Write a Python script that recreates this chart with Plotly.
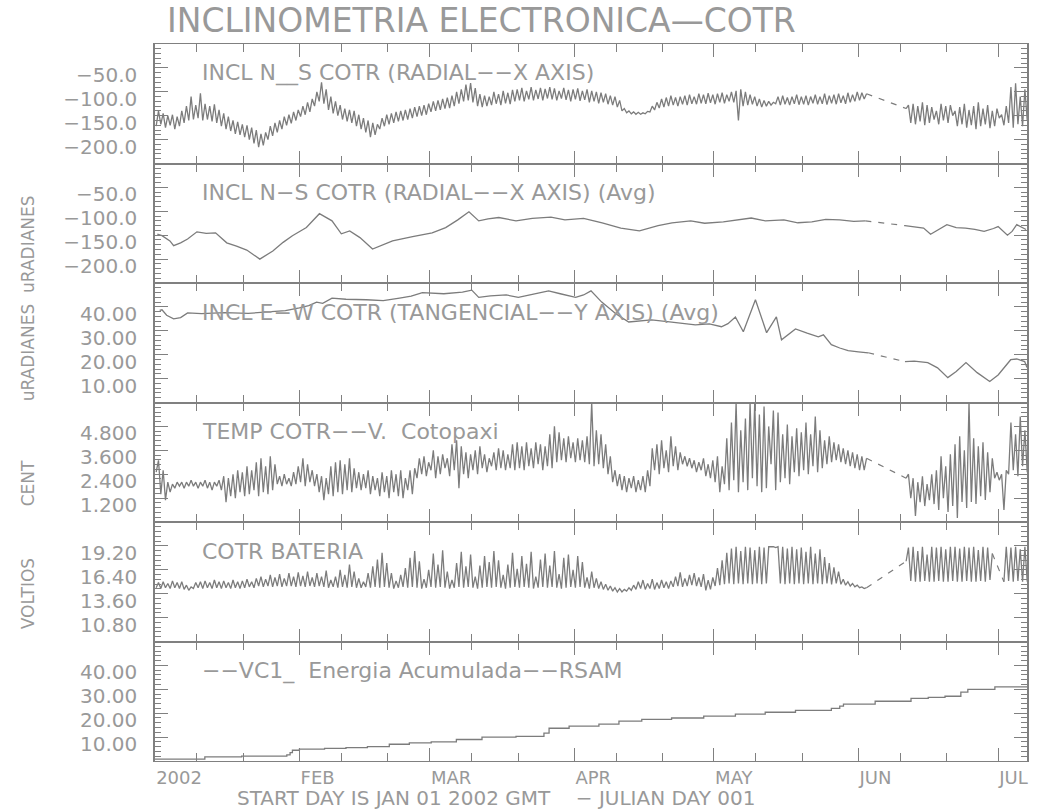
import pandas as pd
import plotly.graph_objects as go
from plotly.subplots import make_subplots

# ---------------- data ----------------
START = "2002-01-01"
X_END_DAY = 187.2

month_ticks = ["2002-01-01", "2002-02-01", "2002-03-01", "2002-04-01",
               "2002-05-01", "2002-06-01", "2002-07-01"]
month_labels = ["2002", "FEB", "MAR", "APR", "MAY", "JUN", "JUL"]
minor_ticks = ["2002-01-10", "2002-01-20", "2002-02-10", "2002-02-20",
               "2002-03-10", "2002-03-20", "2002-04-10", "2002-04-20",
               "2002-05-10", "2002-05-20", "2002-06-10", "2002-06-20"]

N = None
# Panel 1: INCL N__S raw, daily low / high (uRadianes), day 0 = Jan 1
ns_lo = [-172, -168, -175, -170, -178, -172, -165, -160, -158, -155,
         -160, -158, -162, -165, -172, -178, -182, -188, -190, -195,
         -200, -208, -216, -212, -200, -192, -185, -178, -170, -166,
         -160, -152, -148, -142, -130, -120, -125, -138, -145, -150,
         -158, -162, -165, -172, -178, -185, -195, -190, -178, -172,
         -168, -165, -162, -160, -158, -155, -152, -150, -148, -142,
         -140, -138, -135, -134, -130, -125, -120, -118, -122, -130,
         -132, -130, -128, -125, -128, -124, -126, -120, -118, -120,
         -116, -118, -115, -118, -114, -116, -118, -114, -117, -120,
         -116, -119, -117, -122, -120, -124, -122, -126, -128, -132,
         -140, -144, -146, -147, -147, -146, -142, -138, -134, -132,
         -130, -128, -130, -126, -128, -125, -126, -124, -125, -123,
         -126, -122, -124, -120, -122, -160, -130, -128, -126, -130,
         -132, -130, -128, -125, -128, -126, -128, -125, -127, -126,
         -128, -124, -126, -125, -127, -124, -126, -123, -125, -122,
         -120, -118, -115, N, N, N, N, N, N, N,
         N, -135, -165, -168, -162, -170, -165, -158, -168, -160,
         -165, -150, -172, -168, -175, -170, -178, -172, -168, -176,
         -172, -155, -170, -165, -175, -168, -172, -160]
ns_hi = [-140, -145, -150, -148, -152, -140, -130, -110, -128, -103,
         -125, -130, -126, -138, -145, -152, -160, -163, -168, -170,
         -175, -180, -188, -185, -172, -165, -160, -152, -148, -142,
         -138, -130, -122, -115, -100, -80, -95, -110, -120, -128,
         -135, -138, -140, -148, -155, -160, -165, -168, -155, -148,
         -145, -142, -140, -138, -135, -132, -130, -128, -125, -120,
         -118, -115, -112, -108, -100, -95, -85, -82, -92, -105,
         -108, -110, -100, -105, -98, -102, -96, -95, -92, -98,
         -90, -96, -92, -94, -90, -93, -98, -92, -96, -95,
         -93, -98, -95, -98, -100, -102, -104, -108, -110, -118,
         -135, -140, -142, -143, -144, -141, -130, -122, -115, -112,
         -108, -112, -110, -108, -106, -110, -104, -106, -103, -106,
         -104, -102, -106, -100, -98, -95, -100, -106, -110, -115,
         -118, -120, -122, -110, -108, -112, -110, -106, -110, -108,
         -110, -106, -110, -104, -108, -106, -104, -108, -102, -106,
         -100, -102, -104, N, N, N, N, N, N, N,
         N, -128, -125, -130, -122, -128, -132, -140, -125, -130,
         -128, -140, -132, -125, -138, -130, -122, -135, -128, -140,
         -135, -148, -130, -90, -82, -110, -95, -130]

# Panel 2: INCL N-S (Avg)
nsa_day = [0.5, 1.5, 3.2, 4, 5.5, 7, 9, 11, 13, 15.4,
           17.5, 19.7, 22.5, 25.3, 27.5, 29.5, 32.5, 35.3, 38, 40,
           41.8, 44, 46.7, 49, 51, 55.3, 59.5, 62.4, 65, 67.4,
           69.5, 71.5, 73.8, 77.5, 81, 85, 88, 92, 96, 100,
           104, 108, 111, 115, 118, 122, 125, 128, 131, 135,
           138, 141, 144, 147, 150, 152.5, N, 161, 163, 165,
           166.5, 168, 170, 172, 174, 176, 178, 180, 181, 183,
           184, 185, 187]
nsa_val = [-148, -151, -162, -172, -166, -158, -143, -146, -145, -166,
           -173, -181, -200, -183, -165, -151, -134, -105, -120, -147,
           -141, -155, -179, -170, -162, -153, -145, -134, -118, -101,
           -120, -116, -113, -120, -115, -112, -118, -115, -124, -135,
           -141, -130, -124, -120, -125, -122, -118, -114, -120, -118,
           -124, -122, -117, -118, -121, -120, N, -130, -133, -135,
           -148, -140, -128, -134, -135, -138, -142, -136, -132, -150,
           -142, -128, -138]

# Panel 3: INCL E-W (Avg)
ew_day = [1.0, 1.5, 2.5, 3.2, 4, 5.5, 7, 10, 15, 20,
          25, 28, 31, 33, 34.7, 36, 38, 41, 45.4, 49,
          52.5, 55, 57.4, 62, 66, 68, 69.5, 72, 75.4, 78,
          81, 84.5, 87, 90.3, 92, 93.6, 95.9, 99, 101.7, 104,
          106.6, 110, 113, 116, 119, 121.6, 123, 124.6, 126.3, 128.9,
          131.3, 133.4, 134.5, 137.5, 140, 142.4, 143.5, 145.2, 147, 148.8,
          151, 153.1, N, 161, 163, 165.9, 168, 170.2, 172, 174.1,
          176.5, 179.2, 181, 183.7, 185, 186.7, 187.2]
ew_val = [38.5, 38.8, 36.5, 35.8, 35.0, 35.5, 37.5, 37.2, 37.6, 37.3,
          37.8, 38.4, 39.6, 40.5, 42.0, 41.5, 43.7, 43.2, 43.0, 42.6,
          43.7, 44.5, 46.0, 45.5, 46.2, 47.0, 44.0, 44.6, 45.0, 44.0,
          45.2, 46.7, 45.5, 44.0, 45.0, 46.7, 42.0, 37.0, 33.7, 34.2,
          34.6, 33.8, 33.2, 32.5, 32.9, 31.7, 33.0, 35.8, 29.6, 43.0,
          29.2, 35.8, 26.2, 30.8, 29.0, 27.5, 28.3, 24.2, 22.8, 21.7,
          21.2, 20.8, N, 17.1, 17.3, 16.7, 14.5, 10.4, 13.0, 16.7,
          12.5, 8.8, 11.5, 17.9, 18.2, 17.1, 14.6]

# Panel 4: TEMP, daily low / high (deg C)
temp_lo = [2.5, 1.4, 1.1, 1.5, 1.7, 1.8, 1.7, 1.8, 1.8, 1.7,
           1.8, 1.7, 1.6, 1.8, 1.6, 1.0, 1.3, 1.2, 1.5, 1.3,
           1.4, 1.6, 1.3, 1.5, 1.4, 1.6, 1.9, 1.8, 1.9, 1.8,
           1.9, 2.0, 1.8, 2.0, 1.8, 1.5, 1.1, 1.4, 1.3, 1.5,
           1.4, 1.6, 1.5, 1.7, 1.6, 1.7, 1.4, 1.6, 1.3, 1.5,
           1.2, 1.5, 1.3, 1.2, 1.6, 1.4, 2.2, 2.4, 2.3, 2.6,
           2.2, 2.4, 2.7, 2.3, 2.6, 1.7, 2.4, 2.2, 2.6, 2.4,
           2.7, 2.5, 2.8, 2.6, 2.7, 2.6, 2.7, 2.6, 2.7, 2.6,
           2.8, 2.7, 2.9, 2.6, 2.8, 2.7, 3.0, 3.1, 3.0, 3.2,
           3.0, 3.1, 3.0, 2.9, 2.8, 2.9, 2.7, 2.4, 2.0, 1.8,
           1.6, 1.5, 1.7, 1.5, 1.6, 1.5, 1.8, 2.6, 2.4, 2.7,
           2.5, 2.8, 2.6, 2.9, 2.8, 2.7, 2.5, 2.6, 2.3, 2.2,
           2.0, 1.5, 1.9, 1.6, 2.1, 1.5, 2.0, 1.6, 2.2, 1.8,
           1.5, 1.7, 2.9, 1.6, 2.0, 2.2, 1.9, 2.5, 2.3, 2.6,
           2.4, 2.8, 2.5, 2.7, 2.9, 3.0, 3.1, 3.0, 2.9, 2.8,
           2.7, 2.6, 2.6, N, N, N, N, N, N, N,
           N, 2.2, 1.2, 0.3, 1.0, 0.8, 1.1, 0.9, 0.6, 1.2,
           0.5, 0.8, 0.2, 1.0, 0.7, 1.0, 0.9, 1.3, 1.1, 1.5,
           2.2, 2.1, 0.6, 2.4, 2.6, 2.3, 2.8, 2.5]
temp_hi = [3.1, 2.6, 2.0, 1.9, 2.0, 2.0, 2.0, 2.1, 2.0, 2.0,
           2.1, 2.0, 2.0, 2.1, 2.3, 2.2, 2.4, 2.6, 2.5, 2.8,
           2.6, 3.0, 3.2, 2.8, 3.3, 2.9, 2.3, 2.4, 2.2, 2.5,
           2.8, 3.2, 2.9, 2.6, 2.4, 2.3, 2.2, 2.8, 3.0, 3.1,
           2.9, 3.2, 2.7, 2.5, 2.4, 2.6, 2.3, 2.2, 2.5, 2.3,
           2.6, 2.4, 2.6, 2.2, 2.6, 2.7, 3.2, 3.3, 3.0, 3.6,
           3.3, 3.4, 3.2, 3.9, 4.1, 3.8, 3.5, 3.4, 3.6, 3.8,
           3.4, 3.2, 3.5, 3.7, 3.6, 3.4, 3.9, 4.0, 3.8, 4.0,
           3.7, 4.0, 3.9, 3.8, 4.4, 4.8, 4.5, 4.2, 4.3, 4.0,
           4.2, 4.1, 4.3, 6.0, 4.6, 4.4, 3.9, 3.3, 2.6, 2.4,
           2.3, 2.2, 2.3, 2.1, 2.3, 2.6, 3.7, 3.9, 4.1, 3.6,
           4.3, 3.8, 3.5, 3.3, 3.2, 3.1, 3.0, 3.2, 2.9, 3.1,
           3.3, 2.8, 4.2, 5.0, 6.0, 4.6, 5.2, 6.0, 6.0, 5.4,
           5.8, 4.8, 5.6, 5.5, 4.4, 4.9, 4.3, 4.7, 4.5, 5.0,
           4.4, 5.3, 4.6, 4.1, 4.3, 4.0, 3.9, 3.7, 3.6, 3.5,
           3.4, 3.3, 3.2, N, N, N, N, N, N, N,
           N, 2.4, 2.2, 2.0, 2.3, 1.9, 2.4, 2.6, 3.3, 2.8,
           3.4, 3.9, 4.3, 3.6, 6.0, 4.2, 3.8, 4.0, 3.5, 3.2,
           2.5, 2.4, 2.6, 5.0, 4.4, 5.3, 4.6, 4.0]

# Panel 5: BATERIA, daily low / high (voltios)
bat_lo = [14.3, 14.2, 14.3, 14.2, 14.3, 14.2, 14.1, 14.0, 14.2, 14.3,
          14.2, 14.3, 14.2, 14.3, 14.2, 14.3, 14.2, 14.3, 14.2, 14.3,
          14.4, 14.3, 14.5, 14.4, 14.5, 14.4, 14.5, 14.4, 14.5, 14.5,
          14.4, 14.5, 14.4, 14.5, 14.4, 14.5, 14.4, 14.3, 14.4, 14.3,
          14.4, 14.3, 14.4, 14.3, 14.3, 14.4, 14.3, 14.4, 14.3, 14.4,
          14.3, 14.2, 14.3, 14.4, 14.3, 14.4, 14.3, 14.2, 14.3, 14.4,
          14.3, 14.4, 14.3, 14.2, 14.3, 14.4, 14.3, 14.4, 14.3, 14.2,
          14.3, 14.4, 14.3, 14.4, 14.3, 14.2, 14.3, 14.4, 14.3, 14.4,
          14.3, 14.2, 14.3, 14.4, 14.3, 14.4, 14.3, 14.2, 14.3, 14.4,
          14.3, 14.4, 14.3, 14.2, 14.3, 14.2, 14.1, 14.0, 13.9, 13.8,
          13.8, 13.9, 14.0, 14.1, 14.2, 14.1, 14.2, 14.1, 14.2, 14.3,
          14.2, 14.4, 14.5, 14.4, 14.5, 14.6, 14.5, 14.4, 14.0, 14.1,
          14.5, 14.6, 14.7, 14.8, 14.7, 14.8, 14.7, 14.8, 14.7, 14.8,
          14.7, 14.8, 19.1, 19.0, 14.8, 14.7, 14.8, 14.7, 14.8, 14.7,
          14.8, 14.7, 14.8, 14.7, 14.8, 14.7, 14.8, 14.7, 14.6, 14.5,
          14.4, 14.3, 14.2, N, N, N, N, N, N, N,
          N, 17.4, 15.1, 15.0, 15.0, 15.1, 15.0, 15.0, 15.1, 15.0,
          15.0, 15.1, 15.0, 15.0, 15.1, 15.0, 15.0, 15.1, 15.0, 15.2,
          N, N, 15.0, 15.1, 15.0, 15.1, 15.0, 15.0]
bat_hi = [14.9, 15.0, 14.8, 15.1, 14.9, 15.0, 14.6, 14.4, 14.9, 15.0,
          15.1, 14.9, 15.2, 15.0, 15.1, 14.9, 15.2, 15.0, 15.1, 15.3,
          15.0, 15.4, 15.6, 15.3, 15.8, 15.5, 15.9, 15.4, 16.0, 15.6,
          16.1, 15.7, 16.2, 15.5, 16.0, 15.6, 16.3, 15.2, 15.6, 16.4,
          15.8, 17.0, 16.2, 15.4, 15.0, 16.0, 16.8, 17.6, 18.4, 17.2,
          16.0, 15.1, 15.8, 16.6, 17.8, 18.6, 17.4, 15.3, 16.4, 18.3,
          17.0, 18.7, 16.2, 15.2, 17.2, 18.5, 16.8, 18.2, 15.6, 16.9,
          18.0, 17.3, 18.6, 17.5, 15.8, 17.0, 18.4, 16.5, 18.0, 17.1,
          18.5, 15.6, 17.6, 18.3, 16.9, 18.6, 15.9, 17.8, 18.2, 16.4,
          18.0, 17.3, 15.5, 16.2, 15.4, 15.0, 14.7, 14.5, 14.3, 14.2,
          14.1, 14.3, 14.6, 15.0, 15.2, 14.8, 15.3, 14.9, 15.2, 15.0,
          15.1, 15.6, 16.1, 15.4, 15.8, 16.0, 15.5, 15.9, 15.2, 15.5,
          16.6, 17.5, 18.4, 18.9, 19.1, 18.6, 19.1, 19.0, 18.7, 19.1,
          19.0, 19.1, 19.1, 19.1, 19.1, 18.9, 19.1, 18.8, 19.0, 18.5,
          19.1, 18.3, 18.8, 17.9, 17.2, 16.7, 16.2, 15.3, 15.0, 14.8,
          14.6, 14.4, 14.3, N, N, N, N, N, N, N,
          N, 19.0, 19.1, 18.6, 19.1, 18.2, 19.1, 19.0, 19.1, 18.8,
          19.1, 19.1, 18.9, 19.1, 19.0, 19.1, 18.7, 19.1, 19.0, 18.3,
          N, N, 19.1, 19.0, 19.1, 18.8, 19.1, 18.9]

# Panel 6: RSAM energia acumulada (step line)
rsam_day = [0, 10.7, 18.6, 28.3, 29.0, 29.5, 31, 36.4, 41, 45.6,
            50.3, 54.6, 59.3, 64.7, 70.2, 77.5, 83.5, 84.6, 88.9, 95.3,
            99.6, 104.5, 110.9, 117.8, 124.6, 131, 137.5, 145.2, 147, 147.8,
            154.6, 162.3, 166, 169.6, 173, 174.5, 180.3, 187.2]
rsam_val = [0.8, 1.7, 2.0, 2.6, 3.5, 4.5, 5.0, 5.3, 5.6, 6.0,
            7.0, 7.6, 8.0, 9.0, 10.0, 10.3, 11.7, 13.7, 14.6, 15.4,
            16.7, 17.4, 18.0, 18.8, 19.6, 20.4, 21.2, 22.0, 23.0, 23.8,
            25.0, 26.2, 26.6, 27.1, 28.8, 30.0, 31.0, 31.0]

# y axes: range, labelled ticks, minor step
y_ranges = [[-250, 0], [-250, 0], [0, 50], [0, 6], [8, 22], [0, 50]]
y_tickvals = [[-50, -100, -150, -200], [-50, -100, -150, -200],
              [40, 30, 20, 10], [4.8, 3.6, 2.4, 1.2],
              [19.2, 16.4, 13.6, 10.8], [40, 30, 20, 10]]
y_ticktext = [["\u221250.0", "\u2212100.0", "\u2212150.0", "\u2212200.0"],
              ["\u221250.0", "\u2212100.0", "\u2212150.0", "\u2212200.0"],
              ["40.00", "30.00", "20.00", "10.00"],
              ["4.800", "3.600", "2.400", "1.200"],
              ["19.20", "16.40", "13.60", "10.80"],
              ["40.00", "30.00", "20.00", "10.00"]]
y_minor = [10, 10, 2, 0.24, 0.56, 2]

panel_titles = ["INCL N__S COTR (RADIAL\u2212\u2212X AXIS)",
                "INCL N\u2212S COTR (RADIAL\u2212\u2212X AXIS) (Avg)",
                "INCL E\u2212W COTR (TANGENCIAL\u2212\u2212Y AXIS) (Avg)",
                "TEMP COTR\u2212\u2212V.  Cotopaxi",
                "COTR BATERIA",
                "\u2212\u2212VC1_  Energia Acumulada\u2212\u2212RSAM"]

# ---------------- helpers ----------------
T0 = pd.Timestamp(START)


def dt(d):
    return (T0 + pd.Timedelta(days=d)).isoformat()


def daily_xy(lo, hi):
    xs, ys = [], []
    for d, (a, b) in enumerate(zip(lo, hi)):
        if a is None:
            if ys and ys[-1] is not None:
                xs.append(dt(d))
                ys.append(None)
            continue
        xs += [dt(d + 0.25), dt(d + 0.75)]
        ys += [a, b]
    return xs, ys


def daily_gaps(lo, hi):
    xs, ys = [], []
    prev = None
    gap = False
    for d, (a, b) in enumerate(zip(lo, hi)):
        if a is None:
            gap = True
            continue
        if gap and prev is not None:
            xs += [prev[0], dt(d + 0.25), None]
            ys += [prev[1], a, None]
        gap = False
        prev = (dt(d + 0.75), b)
    return xs, ys


def line_xy(days, vals):
    xs = [dt(d) if d is not None else None for d in days]
    return xs, list(vals)


def line_gaps(days, vals):
    xs, ys = [], []
    for i, d in enumerate(days):
        if d is None and 0 < i < len(days) - 1:
            xs += [dt(days[i - 1]), dt(days[i + 1]), None]
            ys += [vals[i - 1], vals[i + 1], None]
    return xs, ys


LINE = "#7c7c7c"
AX = "#808080"
TXT = "#999999"
FONT = "DejaVu Sans"

fig = make_subplots(rows=6, cols=1, shared_xaxes=True, vertical_spacing=0)

series = [
    (daily_xy(ns_lo, ns_hi), daily_gaps(ns_lo, ns_hi), "linear"),
    (line_xy(nsa_day, nsa_val), line_gaps(nsa_day, nsa_val), "linear"),
    (line_xy(ew_day, ew_val), line_gaps(ew_day, ew_val), "linear"),
    (daily_xy(temp_lo, temp_hi), daily_gaps(temp_lo, temp_hi), "linear"),
    (daily_xy(bat_lo, bat_hi), daily_gaps(bat_lo, bat_hi), "linear"),
    (line_xy(rsam_day, rsam_val), ([], []), "hv"),
]
for r, ((x, y), (gx, gy), shape) in enumerate(series, start=1):
    fig.add_trace(go.Scatter(x=x, y=y, mode="lines", connectgaps=False,
                             line=dict(color=LINE, width=1.3, shape=shape),
                             showlegend=False, hoverinfo="skip"), row=r, col=1)
    if gx:
        fig.add_trace(go.Scatter(x=gx, y=gy, mode="lines",
                                 line=dict(color=LINE, width=1.2, dash="6px,7px"),
                                 showlegend=False, hoverinfo="skip"), row=r, col=1)

for r in range(1, 7):
    fig.update_xaxes(row=r, col=1, type="date",
                     range=[dt(0), dt(X_END_DAY)],
                     showline=True, linecolor=AX, linewidth=1, mirror="ticks",
                     ticks="inside", ticklen=13, tickwidth=1.3, tickcolor=AX,
                     tickmode="array", tickvals=month_ticks, ticktext=month_labels,
                     showticklabels=(r == 6), ticklabelposition="outside right",
                     tickfont=dict(family=FONT, size=18, color=TXT),
                     showgrid=False, zeroline=False,
                     minor=dict(tickmode="array", tickvals=minor_ticks,
                                ticks="inside", ticklen=8, tickwidth=1.3,
                                tickcolor=AX, showgrid=False))
    fig.update_yaxes(row=r, col=1, range=y_ranges[r - 1],
                     showline=True, linecolor=AX, linewidth=1.5, mirror="ticks",
                     ticks="inside", ticklen=13, tickwidth=1.3, tickcolor=AX,
                     tickmode="array", tickvals=y_tickvals[r - 1],
                     ticktext=y_ticktext[r - 1], ticklabelshift=7,
                     ticklabelstandoff=12,
                     tickfont=dict(family=FONT, size=20, color=TXT),
                     showgrid=False, zeroline=False,
                     minor=dict(tickmode="linear", tick0=y_ranges[r - 1][0],
                                dtick=y_minor[r - 1], ticks="inside", ticklen=6,
                                tickwidth=1, tickcolor=AX, showgrid=False))

annotations = []
# panel titles
for i, t in enumerate(panel_titles):
    top = 1 - i / 6
    annotations.append(dict(text=t, xref="paper", yref="paper",
                            x=(200 - 155) / 874, y=top - 29 / 717,
                            xanchor="left", yanchor="middle", showarrow=False,
                            font=dict(family=FONT, size=22, color=TXT)))
# main title
annotations.append(dict(text="INCLINOMETRIA ELECTRONICA\u2014COTR", xref="paper",
                        yref="paper", x=(165 - 155) / 874, y=1 + 23 / 717,
                        xanchor="left", yanchor="middle", showarrow=False,
                        font=dict(family=FONT, size=33, color=TXT)))
# bottom caption
annotations.append(dict(text="START DAY IS JAN 01 2002 GMT    \u2212 JULIAN DAY 001",
                        xref="paper", yref="paper", x=(235 - 155) / 874,
                        y=-(798 - 761) / 717, xanchor="left", yanchor="middle",
                        showarrow=False, font=dict(family=FONT, size=20, color=TXT)))
# left unit labels
for text, yc in [("uRADIANES  uRADIANES", 298), ("CENT", 483), ("VOLTIOS", 594)]:
    annotations.append(dict(text=text, xref="paper", yref="paper",
                            x=-(155 - 28) / 874, y=1 - (yc - 44) / 717,
                            xanchor="center", yanchor="middle", textangle=-90,
                            showarrow=False, font=dict(family=FONT, size=17, color=TXT)))

fig.update_layout(width=1039, height=810, plot_bgcolor="white", paper_bgcolor="white",
                  margin=dict(l=155, r=10, t=44, b=49), annotations=annotations,
                  font=dict(family=FONT, color=TXT))

fig.write_html("out.html", config={"displayModeBar": False},
               post_script="document.body.style.margin='0';"
                           "document.body.style.overflow='hidden';")
